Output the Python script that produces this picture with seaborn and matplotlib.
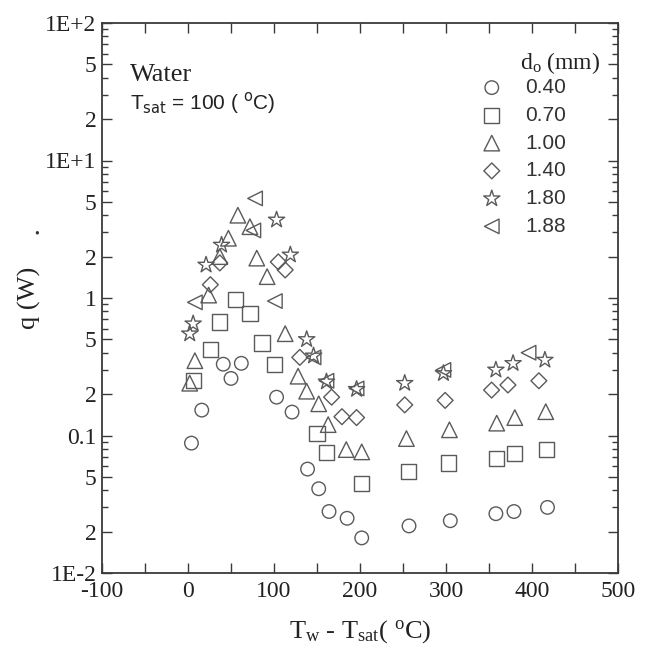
import numpy as np
import pandas as pd
import matplotlib
matplotlib.use("Agg")
import matplotlib.pyplot as plt
import seaborn as sns
from matplotlib.ticker import FixedLocator, FixedFormatter, MultipleLocator

# ---------------- data ----------------
x_040 = [4, 16, 41, 50, 62, 103, 121, 139, 152, 164, 185, 202, 257, 305, 358, 379, 418]
q_040 = [0.088, 0.153, 0.33, 0.26, 0.335, 0.19, 0.148, 0.057, 0.041, 0.028, 0.025, 0.018,
         0.022, 0.024, 0.027, 0.028, 0.030]

x_070 = [6, 26, 37, 55, 72, 86, 101, 150, 161, 202, 256, 303, 359, 380, 417]
q_070 = [0.25, 0.42, 0.67, 0.98, 0.77, 0.47, 0.33, 0.104, 0.075, 0.045, 0.055, 0.063,
         0.068, 0.074, 0.079]

x_100 = [2, 8, 24, 37, 47, 58, 72, 80, 92, 113, 128, 138, 152, 163, 184, 202, 254, 304,
         359, 380, 416]
q_100 = [0.24, 0.35, 1.05, 2.0, 2.72, 4.0, 3.3, 1.95, 1.43, 0.55, 0.27, 0.21, 0.17, 0.12,
         0.079, 0.076, 0.095, 0.11, 0.123, 0.135, 0.149]

x_140 = [26, 37, 105, 113, 130, 167, 179, 196, 252, 299, 353, 372, 408]
q_140 = [1.25, 1.8, 1.83, 1.6, 0.37, 0.19, 0.137, 0.135, 0.167, 0.18, 0.214, 0.233, 0.25]

x_180 = [2, 6, 21, 39, 103, 119, 138, 146, 161, 196, 252, 297, 358, 378, 415]
q_180 = [0.55, 0.65, 1.74, 2.43, 3.7, 2.06, 0.50, 0.38, 0.246, 0.217, 0.24, 0.283, 0.30,
         0.335, 0.354]

x_188 = [8, 76, 78, 101, 146, 161, 196, 297, 396]
q_188 = [0.93, 3.1, 5.3, 0.95, 0.37, 0.25, 0.22, 0.30, 0.40]

labels = ["0.40", "0.70", "1.00", "1.40", "1.80", "1.88"]
series_x = [x_040, x_070, x_100, x_140, x_180, x_188]
series_q = [q_040, q_070, q_100, q_140, q_180, q_188]

y_major = [0.01, 0.02, 0.05, 0.1, 0.2, 0.5, 1, 2, 5, 10, 20, 50, 100]
y_major_labels = ["1E-2", "2", "5", "0.1", "2", "5", "1", "2", "5", "1E+1", "2", "5", "1E+2"]

# ---------------- styling ----------------
sns.set_theme(style="ticks")
plt.rcParams["font.family"] = ["Liberation Serif", "DejaVu Serif"]
plt.rcParams["mathtext.fontset"] = "custom"
plt.rcParams["mathtext.rm"] = "Liberation Serif"
plt.rcParams["mathtext.it"] = "Liberation Serif:italic"
plt.rcParams["axes.unicode_minus"] = False

markers = ["o", "s", "^", "D", "*", "<"]
sizes = [95, 120, 125, 65, 150, 110]
mcol = "#5a5a5a"
axcol = "#3a3a3a"

fig = plt.figure(figsize=(6.47, 6.51), dpi=100)
ax = fig.add_axes([102 / 647, 1 - 573 / 651, 516 / 647, 550 / 651])

frames = []
for lab, xs, qs in zip(labels, series_x, series_q):
    frames.append(pd.DataFrame({"dT": xs, "q": qs, "d": lab}))
df = pd.concat(frames, ignore_index=True)

for lab, mk, sz in zip(labels, markers, sizes):
    sub = df[df["d"] == lab]
    sns.scatterplot(data=sub, x="dT", y="q", ax=ax, marker=mk, s=sz,
                    facecolor="none", edgecolor=mcol, linewidth=1.0, label=lab,
                    legend=False)

ax.set_yscale("log")
ax.set_xlim(-100, 500)
ax.set_ylim(0.01, 100)

ax.xaxis.set_major_locator(MultipleLocator(100))
ax.xaxis.set_minor_locator(MultipleLocator(50))
ax.yaxis.set_major_locator(FixedLocator(y_major))
ax.yaxis.set_major_formatter(FixedFormatter(y_major_labels))
minor_y = [m * 10.0 ** e for e in range(-2, 2) for m in (3, 4, 6, 7, 8, 9)]
ax.yaxis.set_minor_locator(FixedLocator(minor_y))
ax.yaxis.set_minor_formatter(FixedFormatter([""] * len(minor_y)))

ax.tick_params(axis="both", which="both", direction="in", colors=axcol,
               labelcolor="#222222", width=1.0)
ax.tick_params(axis="x", which="both", length=7, top=True, labelsize=17, pad=6)
ax.tick_params(axis="y", which="major", length=7, right=True, labelsize=17, pad=4)
ax.tick_params(axis="y", which="minor", length=4, right=True)
for sp in ax.spines.values():
    sp.set_color(axcol)
    sp.set_linewidth(1.3)

ax.set_xlabel(r"T$_{\rm w}$ - T$_{\rm sat}$( $^{\rm o}$C)", fontsize=19, color="#222222")
ax.xaxis.set_label_coords(0.5, -0.082)
ax.set_ylabel("q (W)", fontsize=19, color="#222222")
ax.yaxis.set_label_coords(-0.118, 0.5)

# annotations
ax.text(0.055, 0.905, "Water", transform=ax.transAxes, fontsize=19, color="#222222",
        va="center", ha="left")
ax.text(0.055, 0.855, r"T$_{\rm sat}$ = 100 ( $^{\rm o}$C)", transform=ax.transAxes,
        fontsize=15, color="#222222", va="center", ha="left",
        family="Liberation Sans", math_fontfamily="dejavusans")
ax.text(0.81, 0.928, r"d$_{\rm o}$ (mm)", transform=ax.transAxes, fontsize=17,
        color="#222222", va="center", ha="left")
fig.text(37 / 647, 1 - 234 / 651, "•", fontsize=10, color="#333333", ha="center", va="center")

leg = ax.legend(loc="upper left", bbox_to_anchor=(0.715, 0.915), frameon=False,
                handletextpad=1.0, labelspacing=0.42, borderaxespad=0, handlelength=1.2,
                prop={"family": "Liberation Sans", "size": 15})
for t in leg.get_texts():
    t.set_color("#333333")

fig.savefig("out.png", dpi=100)
